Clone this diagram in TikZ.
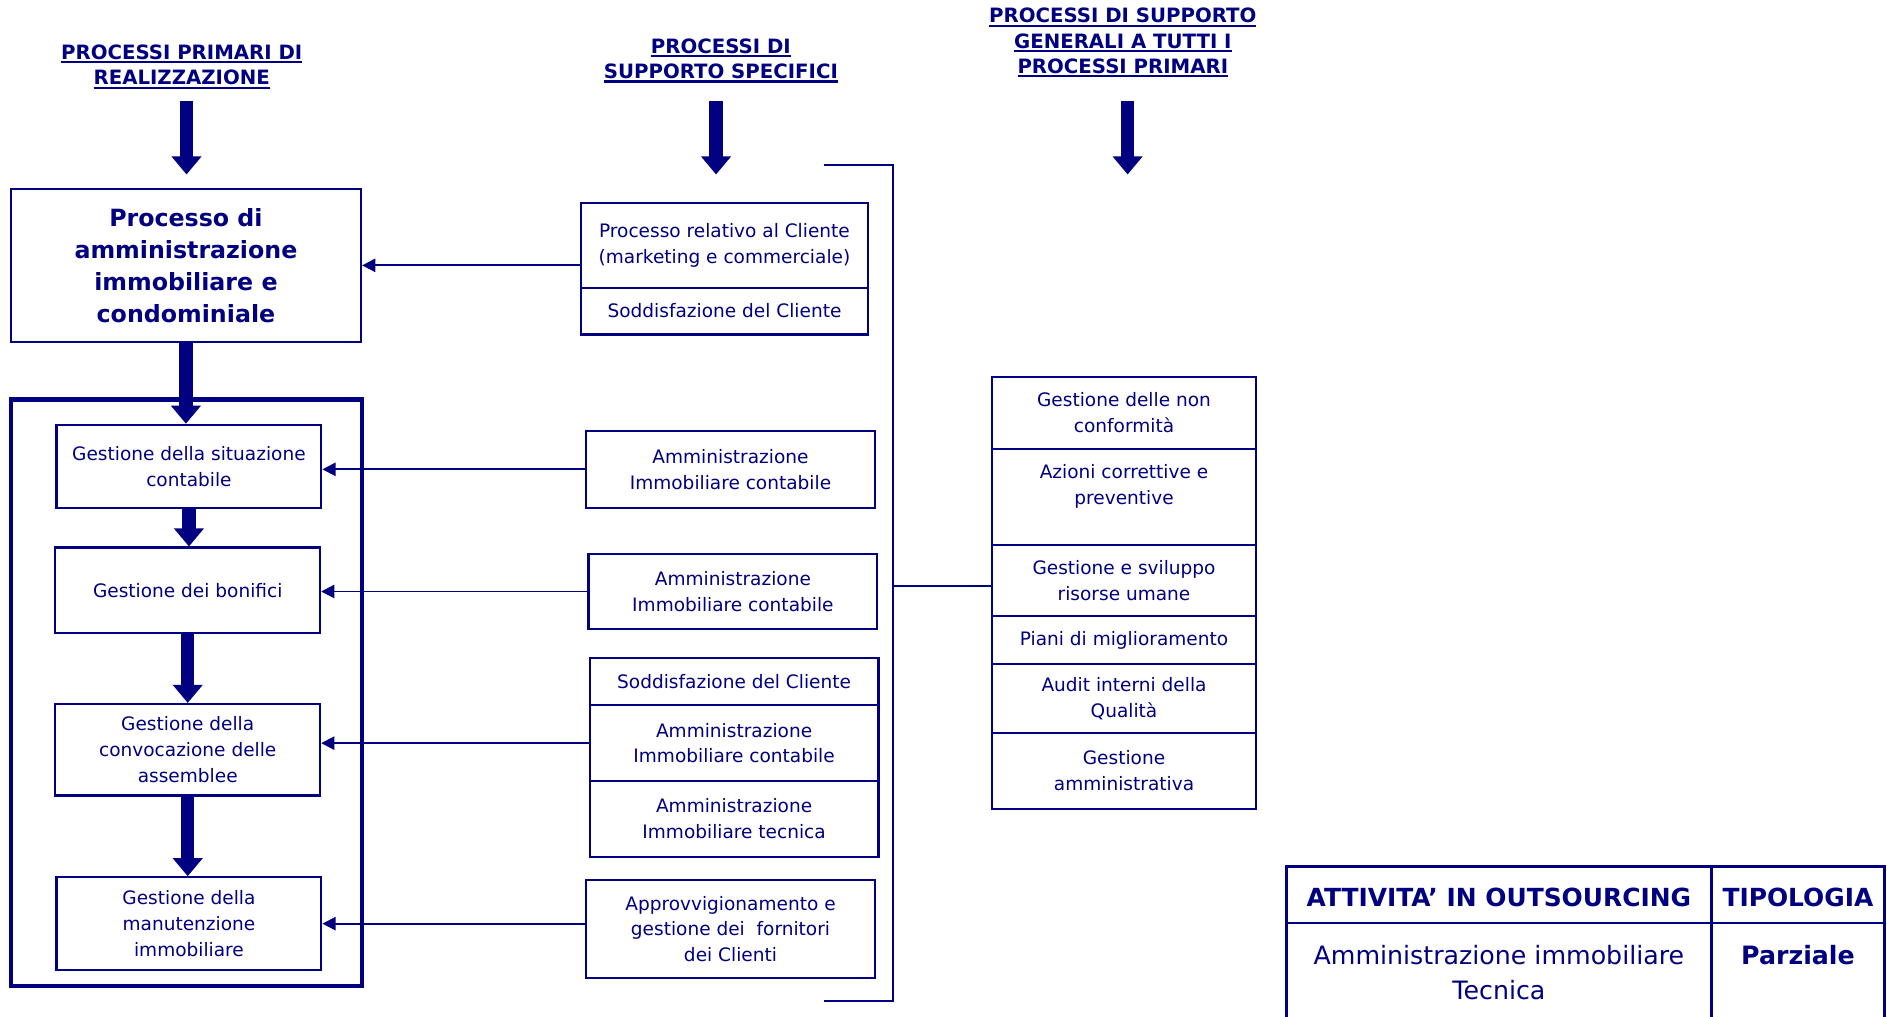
\documentclass[tikz,border=0pt]{standalone}
\usepackage{fontspec}
\setmainfont{DejaVu Sans}
\usetikzlibrary{arrows.meta,calc}
\definecolor{navy}{RGB}{0,0,128}
\newsavebox{\hdrbox}
\newcommand\hdrul[1]{\sbox{\hdrbox}{#1}\leavevmode\rlap{\raisebox{-3.2pt}{\color{navy}\rule{\wd\hdrbox}{1.8pt}}}\usebox{\hdrbox}}
\begin{document}
\begin{tikzpicture}[x=1pt,y=-1pt,
  every node/.style={text=navy},
  box/.style={draw=navy, line width=1.8pt, align=center, inner sep=0pt, font=\fontsize{15.4}{21.5}\selectfont},
  txt/.style={align=center, inner sep=0pt, font=\fontsize{15.4}{21.5}\selectfont},
  hdr/.style={align=center, inner sep=0pt, font=\bfseries\fontsize{16.4}{21}\selectfont},
  bigarrow/.style={draw=navy, fill=navy, line width=11pt, -{Triangle[length=15pt,width=24pt]}},
  thinarrow/.style={draw=navy, line width=1.6pt, -{Triangle[length=11pt,width=11pt]}},
  thinline/.style={draw=navy, line width=1.6pt},
  tcell/.style={draw=navy, line width=2pt, inner sep=0pt},
  tfont/.style={align=center, inner sep=0pt, font=\fontsize{21}{29}\selectfont},
]
\useasboundingbox (0,0) rectangle (1568,845);
\clip (0,0) rectangle (1568,845);
\fill[white] (0,0) rectangle (1568,845);

% headers
\node[hdr] (h1) at (151,55.5) {\hdrul{PROCESSI PRIMARI DI}\\\hdrul{REALIZZAZIONE}};
\node[hdr] (h2) at (599,50.5) {\hdrul{PROCESSI DI}\\\hdrul{SUPPORTO SPECIFICI}};
\node[hdr] (h3) at (933,35.5) {\hdrul{PROCESSI DI SUPPORTO}\\\hdrul{GENERALI A TUTTI I}\\\hdrul{PROCESSI PRIMARI}};

\coordinate (a1s) at (155,84);  \coordinate (a1e) at (155,145);
\coordinate (a2s) at (595,84);  \coordinate (a2e) at (595,145);
\coordinate (a3s) at (937,84);  \coordinate (a3e) at (937,145);
\draw[bigarrow] (a1s) -- (a1e);
\draw[bigarrow] (a2s) -- (a2e);
\draw[bigarrow] (a3s) -- (a3e);

% main process
\node[box, minimum width=291pt, minimum height=127pt, font=\bfseries\fontsize{19.7}{26.7}\selectfont] (main) at (154.5,220.5)
  {Processo di\\amministrazione\\immobiliare e\\condominiale};

% frame
\node[draw=navy, line width=3.5pt, minimum width=292pt, minimum height=487pt, inner sep=0pt] (frame) at (155,575.5) {};

\node[box, minimum width=220pt, minimum height=69pt] (B1) at (157,387.5) {Gestione della situazione\\contabile};
\node[box, minimum width=220pt, minimum height=71pt] (B2) at (156,490.5) {Gestione dei bonifici};
\node[box, minimum width=220pt, minimum height=76pt] (B3) at (156,623) {Gestione della\\convocazione delle\\assemblee};
\node[box, minimum width=220pt, minimum height=77pt] (B4) at (157,767.5) {Gestione della\\manutenzione\\immobiliare};

\draw[bigarrow] (main.south) -- (main.south |- B1.north);
\draw[bigarrow] (B1.south) -- (B1.south |- B2.north);
\draw[bigarrow] (B2.south) -- (B2.south |- B3.north);
\draw[bigarrow] (B3.south) -- (B3.south |- B4.north);

% middle column
\node[box, minimum width=238pt, minimum height=70pt] (M1a) at (602,204) {Processo relativo al Cliente\\(marketing e commerciale)};
\node[box, minimum width=238pt, minimum height=39pt] (M1b) at (602,258.5) {Soddisfazione del Cliente};
\node[box, minimum width=240pt, minimum height=64pt] (M2) at (607,390) {Amministrazione\\Immobiliare contabile};
\node[box, minimum width=240pt, minimum height=63pt] (M3) at (609,491.5) {Amministrazione\\Immobiliare contabile};
\node[box, minimum width=240pt, minimum height=39pt] (M4a) at (610,566.5) {Soddisfazione del Cliente};
\node[box, minimum width=240pt, minimum height=63pt] (M4b) at (610,617.5) {Amministrazione\\Immobiliare contabile};
\node[box, minimum width=240pt, minimum height=63pt] (M4c) at (610,680.5) {Amministrazione\\Immobiliare tecnica};
\node[box, minimum width=240pt, minimum height=82pt] (M5) at (607,772) {Approvvigionamento e\\gestione dei\ \ fornitori\\dei Clienti};

\draw[thinarrow] (main.east -| M1a.west) -- (main.east);
\draw[thinarrow] (M2.west) -- (M2.west -| B1.east);
\draw[thinarrow] (M3.west) -- (M3.west -| B2.east);
\draw[thinarrow] (M4b.west) -- (M4b.west -| B3.east);
\draw[thinarrow] (B4.east -| M5.west) -- (B4.east);

% right column
\node[box, minimum width=220pt, minimum height=60pt] (R1) at (934,343) {Gestione delle non\\conformità};
\node[box, minimum width=220pt, minimum height=80pt] (R2) at (934,413) {};
\node[txt, anchor=north] (R2t) at ($(R2.north)+(0,14)$) {Azioni correttive e\\preventive};
\node[box, minimum width=220pt, minimum height=59pt] (R3) at (934,482.5) {Gestione e sviluppo\\risorse umane};
\node[box, minimum width=220pt, minimum height=40pt] (R4) at (934,532) {Piani di miglioramento};
\node[box, minimum width=220pt, minimum height=57pt] (R5) at (934,580.5) {Audit interni della\\Qualità};
\node[box, minimum width=220pt, minimum height=63pt] (R6) at (934,640.5) {Gestione\\amministrativa};

% bracket
\coordinate (bt) at (685,137);
\coordinate (bb) at (685,832);
\coordinate (bm) at (742,487);
\draw[thinline] (bt) -| (bm) |- (bb);
\draw[thinline] (bm) -- (bm -| R3.west);

% table
\node[tcell, minimum width=353pt, minimum height=47pt] (T1) at (1245.5,743.5) {};
\node[tcell, minimum width=144pt, minimum height=47pt] (T2) at (1494,743.5) {};
\node[tcell, minimum width=353pt, minimum height=100pt] (T3) at (1245.5,817) {};
\node[tcell, minimum width=144pt, minimum height=100pt] (T4) at (1494,817) {};
\node[tfont, font=\bfseries\fontsize{20.7}{29}\selectfont] (T1t) at ($(T1.center)+(0,2.5)$) {ATTIVITA’ IN OUTSOURCING};
\node[tfont, font=\bfseries\fontsize{20.7}{29}\selectfont] (T2t) at ($(T2.center)+(0,2.5)$) {TIPOLOGIA};
\node[tfont, anchor=north] (T3t) at ($(T1.south)+(0,17)$) {Amministrazione immobiliare\\Tecnica};
\node[tfont, anchor=north, font=\bfseries\fontsize{21}{29}\selectfont] (T4t) at ($(T2.south)+(0,17)$) {Parziale};
\end{tikzpicture}
\end{document}
